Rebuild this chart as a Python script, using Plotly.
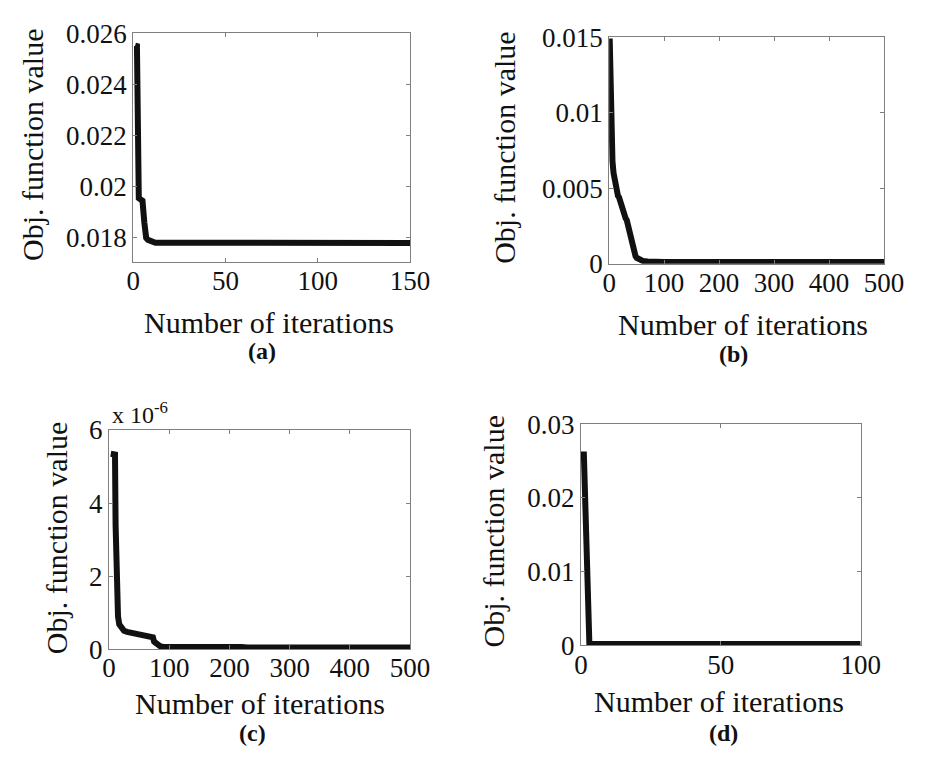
import plotly.graph_objects as go

W, H = 938, 764

# ---- data ----
a_iter = [1, 2, 3, 4, 5, 6, 7, 8, 9, 10, 11, 12, 150]
a_val = [0.02552, 0.02550, 0.01955, 0.01953, 0.01945, 0.01860, 0.01800, 0.01792,
         0.01790, 0.01790, 0.01785, 0.01781, 0.01780]

b_iter = [1, 2, 3, 4, 5, 6, 8, 10, 12, 14, 16, 18, 20, 22, 24, 26, 28, 30, 32, 34,
          36, 38, 40, 42, 44, 46, 48, 50, 54, 58, 62, 70, 80, 100, 500]
b_val = [0.0149, 0.0125, 0.0100, 0.0085, 0.0075, 0.0068, 0.0060, 0.0055, 0.0051,
         0.0047, 0.0045, 0.0044, 0.0041, 0.0038, 0.0035, 0.0033, 0.0031, 0.0030,
         0.0029, 0.0026, 0.0022, 0.0018, 0.0014, 0.0010, 0.0008, 0.0006, 0.0005,
         0.0004, 0.0003, 0.00022, 0.00018, 0.00015, 0.00013, 0.00012, 0.00012]

c_iter = [3, 6, 10, 11, 12, 13, 15, 17, 20, 25, 30, 40, 50, 55, 60, 70, 73, 75,
          80, 85, 90, 100, 150, 220, 230, 500]
c_val = [5.35e-6, 5.35e-6, 5.33e-6, 3.4e-6, 2.0e-6, 1.3e-6, 0.9e-6, 0.68e-6,
         0.6e-6, 0.5e-6, 0.47e-6, 0.44e-6, 0.40e-6, 0.36e-6, 0.34e-6, 0.34e-6,
         0.32e-6, 0.2e-6, 0.12e-6, 0.08e-6, 0.06e-6, 0.055e-6, 0.055e-6,
         0.055e-6, 0.045e-6, 0.045e-6]

d_iter = [1, 2, 3, 100]
d_val = [0.0263, 0.0133, 0.00018, 0.00018]

panels = [
    dict(x=a_iter, y=a_val, xr=[0, 150], yr=[0.01706, 0.026],
         xt=[0, 50, 100, 150], yt=[0.018, 0.02, 0.022, 0.024, 0.026],
         ytt=["0.018", "0.02", "0.022", "0.024", "0.026"],
         box=(130, 415, 19, 257)),
    dict(x=b_iter, y=b_val, xr=[0, 500], yr=[0, 0.015],
         xt=[0, 100, 200, 300, 400, 500], yt=[0, 0.005, 0.01, 0.015],
         ytt=["0", "0.005", "0.01", "0.015"],
         box=(620, 903, 23, 259)),
    dict(x=c_iter, y=c_val, xr=[0, 500], yr=[0, 6e-6],
         xt=[0, 100, 200, 300, 400, 500], yt=[0, 2e-6, 4e-6, 6e-6],
         ytt=["0", "2", "4", "6"],
         box=(105, 415, 432, 660)),
    dict(x=d_iter, y=d_val, xr=[0, 100], yr=[0, 0.03],
         xt=[0, 50, 100], yt=[0, 0.01, 0.02, 0.03],
         ytt=["0", "0.01", "0.02", "0.03"],
         box=(591, 879, 426, 656)),
]

FONT = "Liberation Serif"
fig = go.Figure()
layout = {}
for i, p in enumerate(panels):
    n = "" if i == 0 else str(i + 1)
    l, r, t, b = p["box"]
    fig.add_trace(go.Scatter(x=p["x"], y=p["y"], mode="lines",
                             line=dict(color="#111111", width=6),
                             xaxis="x" + n, yaxis="y" + n, showlegend=False))
    common = dict(showline=True, linecolor="#7f7f7f", linewidth=1, mirror="ticks",
                  ticks="inside", ticklen=4, tickcolor="#7f7f7f", showgrid=False,
                  zeroline=False, tickfont=dict(family=FONT, size=27, color="#111"))
    layout["xaxis" + n] = dict(common, domain=[l / W, r / W], range=p["xr"],
                               tickvals=p["xt"], anchor="y" + n,
                               ticklabelstandoff=-5)
    layout["yaxis" + n] = dict(common, domain=[1 - b / H, 1 - t / H], range=p["yr"],
                               tickvals=p["yt"], ticktext=p["ytt"], anchor="x" + n)

fig.update_layout(**layout)


def ann(text, x, y, size, angle=0, bold=False, xanchor="center", yanchor="middle"):
    if bold:
        text = "<b>" + text + "</b>"
    fig.add_annotation(text=text, x=x / W, y=1 - y / H, xref="paper", yref="paper",
                       showarrow=False, textangle=angle, xanchor=xanchor,
                       yanchor=yanchor, font=dict(family=FONT, size=size, color="#111"))


for (x, y) in [(270, 320), (758, 322), (260, 717), (733, 715)]:
    ann("Number of iterations", x, y, 30)
for (x, y) in [(26, 135), (512, 138), (51, 545), (501, 538)]:
    ann("Obj. function value", x, y, 30, angle=-90)
for lab, (x, y) in zip(["(a)", "(b)", "(c)", "(d)"],
                       [(263, 350), (748, 353), (253, 747), (738, 747)]):
    ann(lab, x, y, 24, bold=True)
ann("x 10<sup>-6</sup>", 106, 432, 24, xanchor="left", yanchor="bottom")

fig.update_layout(width=W, height=H, margin=dict(l=0, r=0, t=0, b=0),
                  paper_bgcolor="white", plot_bgcolor="white",
                  font=dict(family=FONT))
fig.write_html("out.html")
